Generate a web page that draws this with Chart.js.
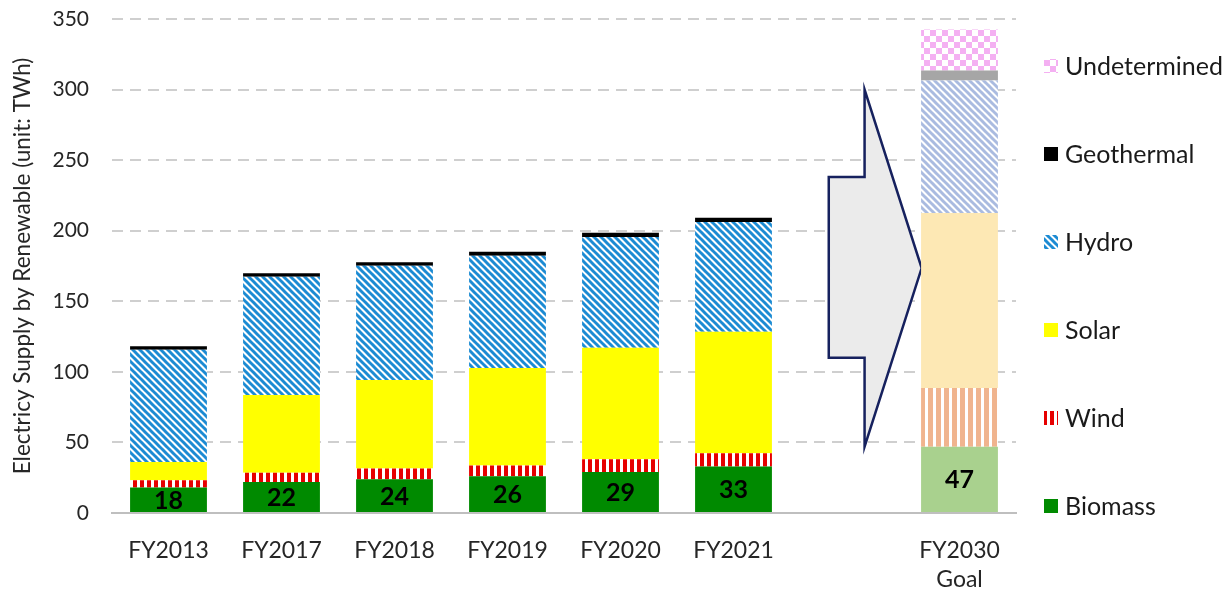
<!DOCTYPE html>
<html>
<head>
<meta charset="utf-8">
<script src="https://cdn.jsdelivr.net/npm/chart.js@4/dist/chart.umd.min.js"></script>
<style>
  html, body { margin: 0; padding: 0; background: #fff; }
  #wrap { width: 1229px; height: 593px; }
</style>
</head>
<body>
<div id="wrap"><canvas id="myChart" width="1229" height="593"></canvas></div>
<script>
// data (TWh)
var categories = ['FY2013', 'FY2017', 'FY2018', 'FY2019', 'FY2020', 'FY2021', '', ['FY2030', 'Goal']];
var biomass      = [18, 22, 24, 26, 29, 33, null, 47];
var wind         = [5.2, 6.5, 7.5, 7.7, 9.0, 9.4, null, 41.5];
var solar        = [12.9, 55.1, 62.7, 69.0, 79.1, 86.1, null, 124];
var hydro        = [79.5, 83.8, 81.0, 79.6, 78.4, 77.7, null, 94];
var geothermal   = [2.6, 2.5, 2.5, 2.8, 3.0, 3.0, null, 7];
var undetermined = [null, null, null, null, null, null, null, 29];
var yTicks = [0, 50, 100, 150, 200, 250, 300, 350];

var FONT = 'Lato, "Open Sans", sans-serif';
var GOAL = 7;

// pattern helpers
function tile(w, h, draw) {
    var c = document.createElement('canvas');
    c.width = w; c.height = h;
    var g = c.getContext('2d');
    g.fillStyle = '#fff';
    g.fillRect(0, 0, w, h);
    draw(g);
    return document.getElementById('myChart').getContext('2d').createPattern(c, 'repeat');
}
function diag(color) {
    return tile(7, 7, function (g) {
        g.strokeStyle = color;
        g.lineWidth = 3;
        for (var k = -7; k <= 7; k += 7) {
            g.beginPath(); g.moveTo(k - 1, -1); g.lineTo(k + 8, 8); g.stroke();
        }
    });
}
function vstripes(color, w, on) {
    return tile(w, 4, function (g) {
        g.fillStyle = color;
        g.fillRect(0, 0, on, 4);
    });
}
function checker(color, s) {
    return tile(s * 2, s * 2, function (g) {
        g.fillStyle = color;
        g.fillRect(0, 0, s, s);
        g.fillRect(s, s, s, s);
    });
}

var hydroFill = diag('#1c8bd3');
var hydroGoal = diag('#aabbe0');
var windFill = vstripes('#e60000', 7, 4);
var windGoal = vstripes('#f0b48e', 8, 5);
var undetFill = checker('#f4b0f2', 6);

function byIndex(base, goal) {
    return function (ctx) { return ctx.dataIndex === GOAL ? goal : base; };
}

var series = [
    { label: 'Biomass', data: biomass, base: '#008a00', goal: '#a9d18e' },
    { label: 'Wind', data: wind, base: windFill, goal: windGoal },
    { label: 'Solar', data: solar, base: '#ffff00', goal: '#fde8b4' },
    { label: 'Hydro', data: hydro, base: hydroFill, goal: hydroGoal },
    { label: 'Geothermal', data: geothermal, base: '#000000', goal: '#a6a6a6' },
    { label: 'Undetermined', data: undetermined, base: undetFill, goal: undetFill }
];

// big block arrow between FY2021 and the goal bar
var arrowPlugin = {
    id: 'arrow',
    beforeDatasetsDraw: function (chart) {
        var x = chart.scales.x, y = chart.scales.y;
        var c = x.getPixelForValue(6), w = x.getPixelForValue(7) - c;
        var pts = [
            [c - 0.157 * w, y.getPixelForValue(238)],
            [c + 0.16 * w, y.getPixelForValue(238)],
            [c + 0.16 * w, y.getPixelForValue(300)],
            [c + 0.665 * w, y.getPixelForValue(173.5)],
            [c + 0.16 * w, y.getPixelForValue(47)],
            [c + 0.16 * w, y.getPixelForValue(110)],
            [c - 0.157 * w, y.getPixelForValue(110)]
        ];
        var g = chart.ctx;
        g.save();
        g.beginPath();
        pts.forEach(function (p, i) { i ? g.lineTo(p[0], p[1]) : g.moveTo(p[0], p[1]); });
        g.closePath();
        g.fillStyle = '#ebebeb';
        g.fill();
        g.lineWidth = 2.5;
        g.lineJoin = 'miter';
        g.strokeStyle = '#16215e';
        g.stroke();
        g.restore();
    }
};

// biomass values written inside the bottom segment
var labelPlugin = {
    id: 'biomassLabels',
    afterDatasetsDraw: function (chart) {
        var g = chart.ctx;
        var meta = chart.getDatasetMeta(0);
        g.save();
        g.font = 'bold 25px ' + FONT;
        g.fillStyle = '#000';
        g.textAlign = 'center';
        g.textBaseline = 'middle';
        meta.data.forEach(function (bar, i) {
            if (biomass[i] == null) return;
            g.fillText(String(biomass[i]), bar.x, (bar.y + bar.base) / 2 + 1);
        });
        g.restore();
    }
};

// legend on the right, reversed order
var legendPlugin = {
    id: 'sideLegend',
    afterDraw: function (chart) {
        var g = chart.ctx;
        var area = chart.chartArea;
        var x0 = area.right + 28;
        var top = area.top + 47;
        var step = 88;
        g.save();
        g.font = '25px ' + FONT;
        g.textBaseline = 'middle';
        series.slice().reverse().forEach(function (s, i) {
            var cy = top + i * step;
            g.fillStyle = s.base;
            g.fillRect(x0, cy - 7, 14, 14);
            g.fillStyle = '#1a1a1a';
            g.fillText(s.label, x0 + 21, cy + 1);
        });
        g.restore();
    }
};

var ctx = document.getElementById('myChart');
var myChart = new Chart(ctx, {
    type: 'bar',
    data: {
        labels: categories,
        datasets: series.map(function (s) {
            return {
                label: s.label,
                data: s.data,
                backgroundColor: byIndex(s.base, s.goal),
                borderWidth: 0,
                categoryPercentage: 1,
                barPercentage: 0.68
            };
        })
    },
    options: {
        responsive: false,
        animation: false,
        events: [],
        layout: { padding: { top: 19, right: 213, left: 0, bottom: 0 } },
        plugins: {
            legend: { display: false },
            tooltip: { enabled: false }
        },
        scales: {
            x: {
                stacked: true,
                grid: { display: false },
                border: { display: true, color: '#bfbfbf', width: 2 },
                ticks: {
                    color: '#262626',
                    padding: 15,
                    maxRotation: 0,
                    autoSkip: false,
                    font: { family: FONT, size: 23, lineHeight: 1.25 }
                },
                afterFit: function (s) { s.height = 80; s.paddingLeft = 0; s.paddingRight = 0; }
            },
            y: {
                stacked: true,
                min: 0,
                max: 350,
                afterBuildTicks: function (s) {
                    s.ticks = yTicks.map(function (v) { return { value: v }; });
                },
                grid: {
                    drawTicks: false,
                    color: function (c) { return c.tick && c.tick.value === 0 ? 'rgba(0,0,0,0)' : '#cfcfcf'; },
                    lineWidth: 2
                },
                border: { display: false, dash: [11, 7] },
                ticks: {
                    color: '#262626',
                    padding: 23,
                    font: { family: FONT, size: 21 }
                },
                title: {
                    display: true,
                    text: 'Electricy Supply by Renewable (unit: TWh)',
                    color: '#262626',
                    padding: { top: 9, bottom: 0 },
                    font: { family: FONT, size: 22.5 }
                },
                afterFit: function (s) { s.width = 112; s.paddingTop = 0; s.paddingBottom = 0; }
            }
        }
    },
    plugins: [arrowPlugin, labelPlugin, legendPlugin]
});
</script>
</body>
</html>
